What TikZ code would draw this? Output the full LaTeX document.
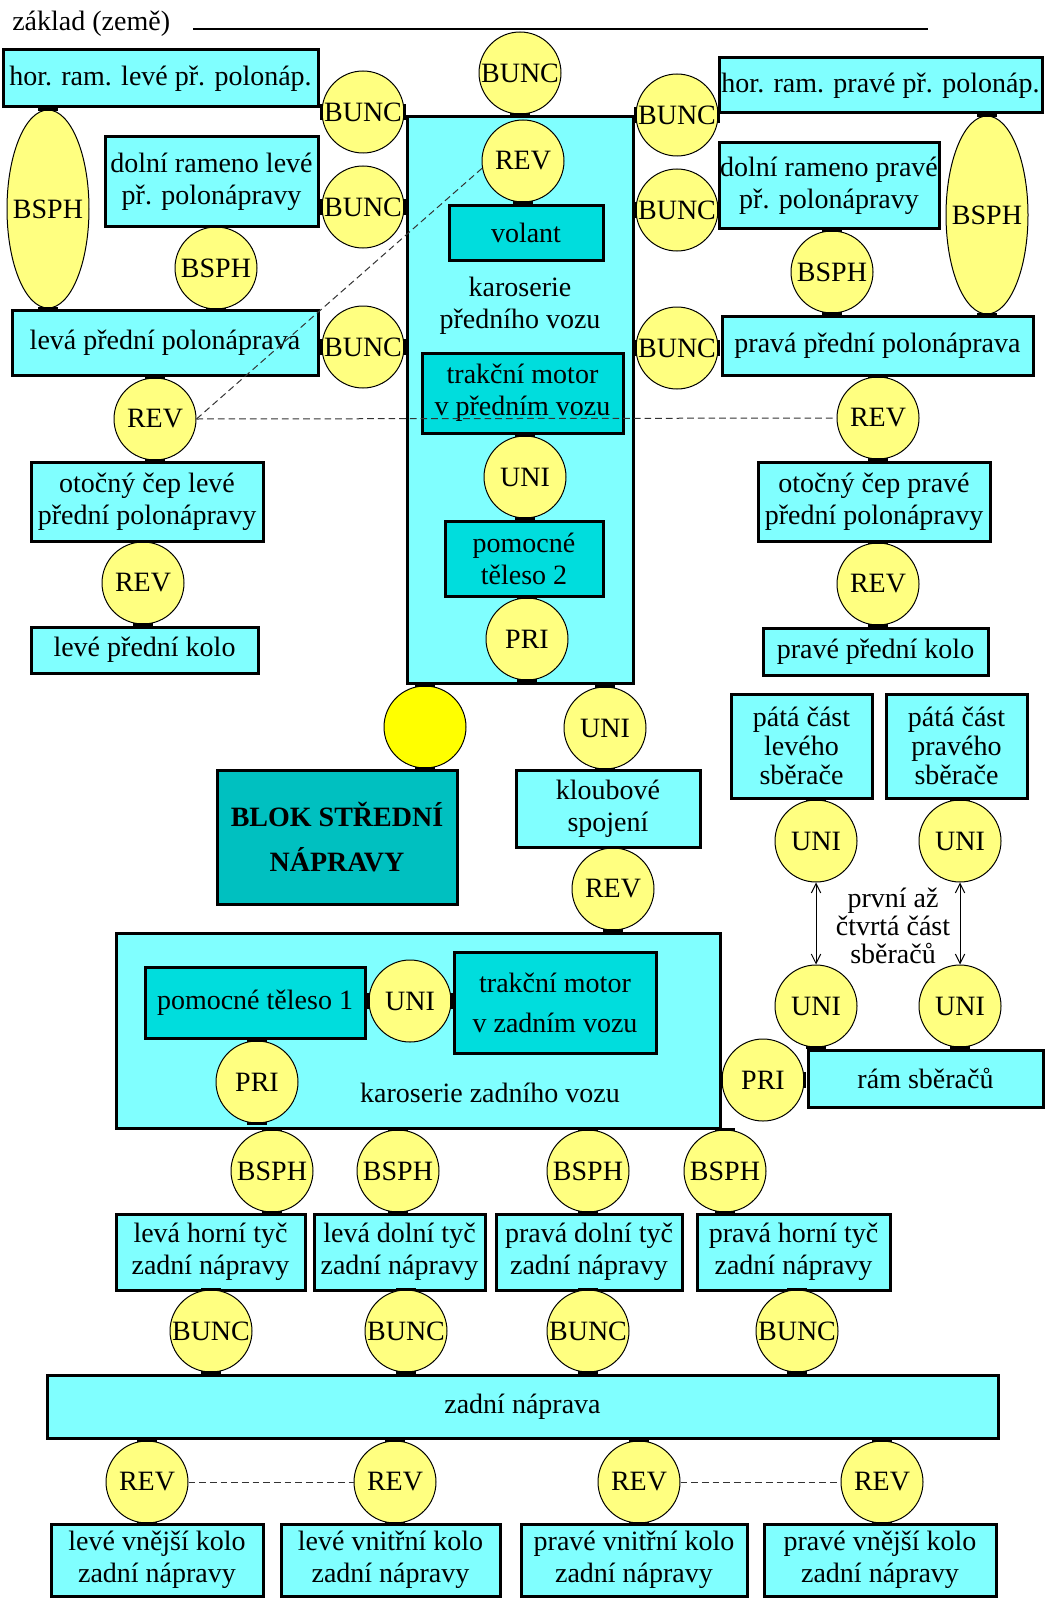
\documentclass[tikz,border=0pt]{standalone}
\usepackage{fontspec}
\setmainfont{Liberation Serif}
\usetikzlibrary{shapes.geometric,arrows.meta}
\definecolor{lc}{HTML}{80FFFF}
\definecolor{mc}{HTML}{00DDDD}
\definecolor{bc}{HTML}{00C0C0}
\definecolor{jy}{HTML}{FFFF80}
\definecolor{ey}{HTML}{FFFF00}
\newcommand\myfont{\fontsize{21}{24}\selectfont}
\newcommand\bfont{\fontsize{21}{34}\selectfont\bfseries}
\newcommand\tfont{\fontsize{21}{30}\selectfont}
\newcommand\pfont{\fontsize{21}{22}\selectfont}
\newcommand\lfont{\fontsize{21}{21}\selectfont}
\newcommand\mybox[7][]{%
 \pgfmathsetmacro\mbcx{(#3+#5)/2}%
 \pgfmathsetmacro\mbcy{(#4+#6)/2}%
 \pgfmathsetmacro\mbw{(#5-#3)*0.75}%
 \pgfmathsetmacro\mbh{(#6-#4)*0.75}%
 \node[box,minimum width=\mbw pt,minimum height=\mbh pt,#1] (#2) at (\mbcx,\mbcy) {#7};}
\newcommand\myjoint[5][]{\node[joint,#1] (#2) at (#3,#4) {\makebox[0pt]{#5}};}
\newcommand\mkS[1]{\draw[jm] ([xshift=-7.5pt]#1.south) -- ([xshift=7.5pt]#1.south);}
\newcommand\mkN[1]{\draw[jm] ([xshift=-7.5pt]#1.north) -- ([xshift=7.5pt]#1.north);}
\newcommand\mkW[1]{\draw[jm] ([yshift=-6pt]#1.west) -- ([yshift=6pt]#1.west);}
\newcommand\mkE[1]{\draw[jm] ([yshift=-6pt]#1.east) -- ([yshift=6pt]#1.east);}
\begin{document}
\begin{tikzpicture}[x=0.75pt,y=-0.75pt,
  box/.style={draw, line width=2.25pt, fill=lc, inner sep=0pt, align=center, font=\myfont},
  joint/.style={draw, line width=0.75pt, fill=jy, circle, inner sep=0pt, minimum size=61.5pt, font=\myfont},
  tall/.style={ellipse, minimum width=61.5pt, minimum height=148.5pt},
  txt/.style={align=center, font=\myfont, inner sep=0pt},
  jm/.style={line width=2.25pt, line cap=butt},
  dsh/.style={line width=0.75pt, black!80, dash pattern=on 5pt off 3pt},
  arr/.style={line width=0.75pt, {Straight Barb[length=7pt,width=7pt]}-{Straight Barb[length=7pt,width=7pt]}}]
\fill[white] (0,0) rectangle (1048,1598);
\useasboundingbox (0,0) rectangle (1048,1598);
% ground
\node[font=\myfont, anchor=west, inner sep=0pt] (zem) at (12,24) {základ (země)};
\coordinate (g1) at (193,29);
\coordinate (g2) at (928,29);
\draw[line width=1.5pt] (g1) -- (g2);
% left front
\mybox{hrL}{3}{50}{318}{107}{hor. ram. levé př. polonáp.}
\mybox{drL}{105}{137}{318}{226}{dolní rameno levé\\př. polonápravy}
\mybox{ppL}{12}{310}{318}{375}{levá přední polonáprava}
\mybox{ocL}{31}{462}{263}{541}{otočný čep levé\\přední polonápravy}
\mybox{kL}{31}{627}{258}{673}{levé přední kolo}
% front body
\mybox{karP}{407}{117}{633}{683}{}
\mybox[fill=mc]{vol}{449}{205}{603}{260}{volant}
\node[txt] (karPt) at (520,306) {karoserie\\předního vozu};
\mybox[fill=mc]{tmP}{422}{353}{623}{433}{trakční motor\\v předním vozu}
\mybox[fill=mc]{pt2}{445}{521}{603}{596}{pomocné\\těleso 2}
\mybox[fill=bc,font=\bfont]{blok}{217}{770}{457}{904}{BLOK STŘEDNÍ\\NÁPRAVY}
\mybox{kloub}{516}{770}{700}{847}{kloubové\\spojení}
% right front
\mybox{hrR}{719}{58}{1042}{113}{hor. ram. pravé př. polonáp.}
\mybox{drR}{719}{143}{939}{228}{dolní rameno pravé\\př. polonápravy}
\mybox{ppR}{722}{316}{1033}{375}{pravá přední polonáprava}
\mybox{ocR}{758}{462}{990}{541}{otočný čep pravé\\přední polonápravy}
\mybox{kR}{763}{628}{988}{675}{pravé přední kolo}
\mybox[font=\pfont]{p5L}{731}{694}{872}{798}{pátá část\\levého\\sběrače}
\mybox[font=\pfont]{p5R}{886}{694}{1027}{798}{pátá část\\pravého\\sběrače}
\mybox{ram}{808}{1050}{1043}{1107}{rám sběračů}
% rear body
\mybox{karZ}{116}{933}{720}{1128}{}
\mybox[fill=mc]{pt1}{145}{967}{365}{1038}{pomocné těleso 1}
\mybox[fill=mc,font=\tfont]{tmZ}{454}{952}{656}{1053}{trakční motor\\v zadním vozu}
\node[txt] (karZt) at (490,1093) {karoserie zadního vozu};
\mybox{t1}{116}{1214}{305}{1290}{levá horní tyč\\zadní nápravy}
\mybox{t2}{314}{1214}{485}{1290}{levá dolní tyč\\zadní nápravy}
\mybox{t3}{496}{1214}{682}{1290}{pravá dolní tyč\\zadní nápravy}
\mybox{t4}{697}{1214}{890}{1290}{pravá horní tyč\\zadní nápravy}
\mybox{zn}{47}{1375}{998}{1438}{zadní náprava}
\mybox{k1}{51}{1524}{263}{1596}{levé vnější kolo\\zadní nápravy}
\mybox{k2}{281}{1524}{500}{1596}{levé vnitřní kolo\\zadní nápravy}
\mybox{k3}{521}{1524}{747}{1596}{pravé vnitřní kolo\\zadní nápravy}
\mybox{k4}{764}{1524}{996}{1596}{pravé vnější kolo\\zadní nápravy}
% joints
\myjoint[tall]{bsL1}{48}{209}{BSPH}
\myjoint{bsL2}{216}{268}{BSPH}
\myjoint{buL1}{363}{112}{BUNC}
\myjoint{buL2}{363}{207}{BUNC}
\myjoint{buL3}{363}{347}{BUNC}
\myjoint{rvL1}{155}{419}{REV}
\myjoint{rvL2}{143}{583}{REV}
\myjoint{buT}{520}{73}{BUNC}
\myjoint{rvT}{523}{161}{REV}
\myjoint{uniP}{525}{477}{UNI}
\myjoint{priP}{527}{639}{PRI}
\myjoint[fill=ey]{emp}{425}{727}{}
\myjoint{uniK}{605}{728}{UNI}
\myjoint{rvK}{613}{889}{REV}
\myjoint{buR1}{677}{115}{BUNC}
\myjoint{buR2}{677}{210}{BUNC}
\myjoint{buR3}{677}{348}{BUNC}
\myjoint[tall]{bsR1}{987}{215}{BSPH}
\myjoint{bsR2}{832}{272}{BSPH}
\myjoint{rvR1}{878}{418}{REV}
\myjoint{rvR2}{878}{584}{REV}
\myjoint{uA}{816}{841}{UNI}
\myjoint{uB}{960}{841}{UNI}
\myjoint{uC}{816}{1006}{UNI}
\myjoint{uD}{960}{1006}{UNI}
\myjoint{priR}{763}{1080}{PRI}
\myjoint{uniZ}{410}{1001}{UNI}
\myjoint{priZ}{257}{1082}{PRI}
\myjoint{bs1}{272}{1171}{BSPH}
\myjoint{bs2}{398}{1171}{BSPH}
\myjoint{bs3}{588}{1171}{BSPH}
\myjoint{bs4}{725}{1171}{BSPH}
\myjoint{bu1}{211}{1331}{BUNC}
\myjoint{bu2}{406}{1331}{BUNC}
\myjoint{bu3}{588}{1331}{BUNC}
\myjoint{bu4}{797}{1331}{BUNC}
\myjoint{rv1}{147}{1482}{REV}
\myjoint{rv2}{395}{1482}{REV}
\myjoint{rv3}{639}{1482}{REV}
\myjoint{rv4}{882}{1482}{REV}
\node[txt, font=\lfont] (lbl) at (893,926) {první až\\čtvrtá část\\sběračů};
% dashed links
\draw[dsh] (rvL1.east) -- (rvR1.west);
\draw[dsh] (rvL1.east) -- (rvT.190);
\draw[dsh] (rv1.east) -- (rv2.west);
\draw[dsh] (rv3.east) -- (rv4.west);
% arrows
\draw[arr] (uA.south) -- (uC.north);
\draw[arr] (uB.south) -- (uD.north);
% joint marks
\foreach \n in {bsL1,bsL2,rvL1,rvL2,uniP,priP,emp,uniK,rvK,bsR1,bsR2,rvR1,rvR2,priZ,bs1,bs2,bs3,bs4,bu1,bu2,bu3,bu4,rv1,rv2,rv3,rv4}{\mkS{\n}\mkN{\n}}
\foreach \n in {buT,rvT,uC,uD}{\mkS{\n}}
\foreach \n in {uA,uB}{\mkN{\n}}
\foreach \n in {buL1,buL2,buL3,buR1,buR2,buR3,priR,uniZ}{\mkW{\n}\mkE{\n}}
\end{tikzpicture}
\end{document}
